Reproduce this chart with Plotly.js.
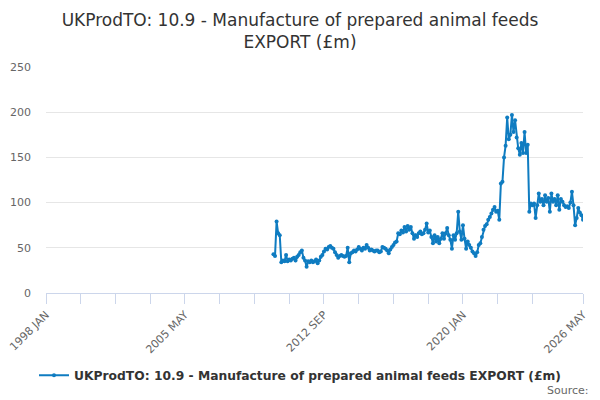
<!DOCTYPE html>
<html>
<head>
<meta charset="utf-8">
<script src="https://cdn.plot.ly/plotly-3.0.1.min.js"></script>
<style>
  html, body { margin: 0; padding: 0; background: #fff; }
  #chart { width: 600px; height: 400px; }
</style>
</head>
<body>
<div id="chart"></div>
<script>
'use strict';

const SERIES_NAME = 'UKProdTO: 10.9 - Manufacture of prepared animal feeds EXPORT (£m)';
const MONTHS = ['JAN', 'FEB', 'MAR', 'APR', 'MAY', 'JUN', 'JUL', 'AUG', 'SEP', 'OCT', 'NOV', 'DEC'];
const FIRST_YEAR = 1998;
const LAST_YEAR = 2026;
const LAST_MONTH = 4; // MAY
const DATA_START = '2010 JAN';

// monthly values, 2010 JAN .. 2026 MAY
const v2010 = [43, 41, 79, 66, 64, 34, 36, 35, 42, 35, 37, 36];
const v2011 = [38, 39, 36, 40, 42, 45, 47, 39, 36, 29, 35, 34];
const v2012 = [36, 34, 35, 37, 33, 36, 40, 42, 46, 49, 48, 51];
const v2013 = [52, 50, 49, 45, 42, 39, 41, 42, 41, 40, 41, 50];
const v2014 = [34, 44, 45, 47, 46, 48, 51, 49, 47, 50, 49, 53];
const v2015 = [50, 47, 48, 47, 46, 47, 47, 45, 46, 51, 50, 49];
const v2016 = [47, 44, 48, 51, 53, 56, 57, 66, 65, 69, 67, 73];
const v2017 = [68, 74, 70, 73, 66, 60, 64, 62, 66, 68, 65, 66];
const v2018 = [70, 77, 67, 69, 62, 55, 64, 57, 62, 55, 60, 66];
const v2019 = [60, 66, 72, 64, 59, 49, 64, 59, 66, 90, 68, 59];
const v2020 = [75, 60, 49, 57, 53, 50, 46, 44, 41, 45, 53, 55];
const v2021 = [62, 70, 74, 76, 81, 84, 88, 92, 95, 90, 91, 81];
const v2022 = [121, 123, 150, 163, 194, 170, 175, 197, 178, 191, 172, 160];
const v2023 = [153, 166, 155, 178, 155, 164, 90, 99, 97, 99, 83, 97];
const v2024 = [110, 101, 104, 97, 108, 101, 105, 90, 110, 101, 104, 97];
const v2025 = [108, 92, 104, 101, 97, 95, 96, 94, 100, 112, 97, 75];
const v2026 = [83, 94, 89, 86, 81];

const values = [].concat(v2010, v2011, v2012, v2013, v2014, v2015, v2016, v2017,
                         v2018, v2019, v2020, v2021, v2022, v2023, v2024, v2025, v2026);

// category labels for the whole axis
const categories = [];
for (let y = FIRST_YEAR; y <= LAST_YEAR; y++) {
    for (let m = 0; m < 12; m++) {
        if (y === LAST_YEAR && m > LAST_MONTH) break;
        categories.push(y + ' ' + MONTHS[m]);
    }
}
const start = categories.indexOf(DATA_START);
const xs = categories.slice(start, start + values.length);

// a tick every 22 months, labels on every 4th, plus the last category
const tickvals = [];
const ticktext = [];
for (let i = 0; i < categories.length - 22; i += 22) {
    tickvals.push(categories[i]);
    ticktext.push(i % 88 === 0 ? categories[i] : '');
}
tickvals.push(categories[categories.length - 1]);
ticktext.push(categories[categories.length - 1]);

const FONT = 'DejaVu Sans, sans-serif';
const BLUE = '#0f7cc1';

const data = [{
    x: xs,
    y: values,
    type: 'scatter',
    mode: 'lines+markers',
    name: SERIES_NAME,
    line: { color: BLUE, width: 2 },
    marker: { color: BLUE, size: 4 },
    hoverinfo: 'x+y'
}];

const layout = {
    width: 600,
    height: 400,
    margin: { l: 46, r: 17, t: 67, b: 107, autoexpand: false },
    paper_bgcolor: '#fff',
    plot_bgcolor: '#fff',
    font: { family: FONT, color: '#333' },
    title: {
        text: 'UKProdTO: 10.9 - Manufacture of prepared animal feeds<br>EXPORT (£m)',
        font: { family: FONT, size: 17, color: '#333' },
        x: 0.5,
        xanchor: 'center',
        y: 0.935,
        yanchor: 'top'
    },
    xaxis: {
        type: 'category',
        categoryorder: 'array',
        categoryarray: categories,
        range: [0, categories.length - 1],
        tickmode: 'array',
        tickvals: tickvals,
        ticktext: ticktext,
        tickangle: -45,
        ticks: 'outside',
        ticklen: 10,
        tickcolor: '#ccd6eb',
        showline: true,
        linecolor: '#ccd6eb',
        linewidth: 1,
        showgrid: false,
        zeroline: false,
        automargin: false,
        tickfont: { family: FONT, size: 11, color: '#666' },
        fixedrange: true
    },
    yaxis: {
        range: [0, 250],
        dtick: 50,
        gridcolor: '#e6e6e6',
        zeroline: false,
        showline: false,
        ticks: '',
        ticklabelstandoff: 14,
        automargin: false,
        tickfont: { family: FONT, size: 11, color: '#666' },
        fixedrange: true
    },
    showlegend: true,
    legend: {
        orientation: 'h',
        x: 0.473,
        xanchor: 'center',
        y: -0.3,
        yanchor: 'top',
        itemwidth: 30,
        font: { family: FONT, size: 12.3, color: '#333', weight: 'bold' }
    },
    annotations: [{
        text: 'Source:',
        xref: 'paper',
        yref: 'paper',
        x: 1.014,
        y: -0.395,
        xanchor: 'right',
        yanchor: 'top',
        showarrow: false,
        font: { family: FONT, size: 11, color: '#666' }
    }]
};

Plotly.newPlot('chart', data, layout, { displayModeBar: false, staticPlot: true });
</script>
</body>
</html>
